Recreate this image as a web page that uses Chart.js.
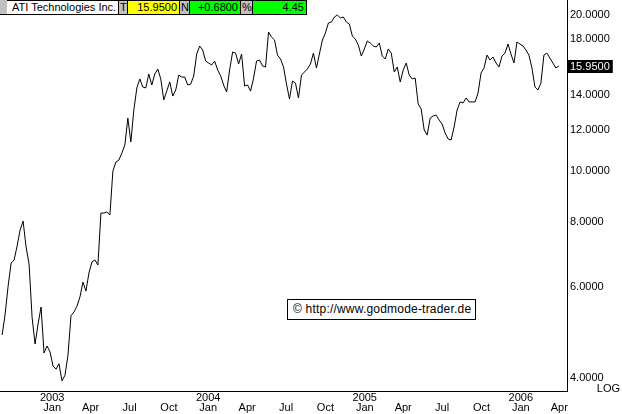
<!DOCTYPE html>
<html><head><meta charset="utf-8">
<script src="https://cdn.jsdelivr.net/npm/chart.js@4.4.1/dist/chart.umd.min.js"></script>
<style>
html,body{margin:0;padding:0;background:#fff;}
#wrap{position:relative;width:622px;height:414px;overflow:hidden;font-family:"Liberation Sans",Arial,sans-serif;color:#000;}
#c{position:absolute;left:0;top:0;}
#hdr{position:absolute;left:0;top:0;height:15px;display:flex;background:#c0c0c0;}
#hdr div{box-sizing:border-box;height:15px;border:1px solid #000;border-left:none;font-size:11px;line-height:13px;white-space:nowrap;overflow:hidden;}
#hdr .lab{background:#c0c0c0;padding-left:1px;}
#hdr .r{text-align:right;padding-right:2px;}
#wm{position:absolute;left:287px;top:299px;width:189px;height:21px;box-sizing:border-box;border:1px solid #000;background:#fff;font-size:12px;line-height:19px;padding-left:5px;white-space:nowrap;letter-spacing:0.2px;}
</style></head>
<body>
<div id="wrap">
<canvas id="c" width="622" height="414"></canvas>
<div id="hdr"></div>
<div id="wm"></div>
</div>
<script>
// ---- data ----
const companyName = 'ATI Technologies Inc.';
const lastQuote = '15.9500';
const netChange = '+0.6800';
const pctChange = '4.45';
const watermark = '\u00A9 http://www.godmode-trader.de';
const firstWeek = [2002, 8, 6]; // first weekly close: 6 Sep 2002
const weeklyClose = [
  4.84, 5.31, 6.01, 6.66, 6.75, 7.18, 7.71, 8.02, 7.15, 6.63,
  5.24, 4.65, 5.08, 5.48, 4.47, 4.61, 4.49, 4.22, 4.16, 4.26,
  3.95, 4.05, 4.43, 5.27, 5.36, 5.50, 5.73, 6.12, 5.88, 6.37,
  6.69, 6.75, 6.60, 8.31, 8.31, 8.35, 8.24, 10.01, 10.42, 10.51,
  10.84, 11.24, 12.66, 11.39, 13.12, 14.47, 15.06, 14.53, 14.47, 15.39,
  14.66, 15.39, 15.74, 15.06, 13.72, 14.27, 14.86, 13.96, 14.34, 15.32,
  15.19, 15.19, 14.66, 14.72, 15.26, 16.82, 17.43, 17.12, 16.30, 16.16,
  16.02, 16.30, 15.67, 15.26, 14.66, 14.21, 15.67, 16.97, 16.89, 16.09,
  16.82, 14.60, 14.66, 14.27, 15.12, 16.30, 16.38, 15.95, 15.88, 18.54,
  18.13, 17.90, 16.74, 16.45, 15.88, 14.72, 13.78, 14.92, 14.79, 13.84,
  15.32, 15.53, 15.74, 16.09, 16.89, 15.81, 16.82, 17.90, 18.46, 19.30,
  19.38, 19.82, 19.99, 19.73, 19.82, 19.38, 19.21, 18.21, 17.97, 17.50,
  16.67, 17.20, 17.82, 17.66, 17.43, 17.35, 17.66, 16.67, 16.45, 17.20,
  16.89, 15.53, 15.88, 14.86, 15.67, 16.16, 15.32, 15.06, 15.12, 13.48,
  13.18, 12.01, 11.74, 12.66, 12.78, 12.83, 12.55, 12.33, 11.85, 11.54,
  11.49, 12.17, 13.12, 13.60, 13.54, 13.84, 13.60, 13.60, 13.60, 14.15,
  15.46, 15.81, 16.74, 16.38, 16.60, 16.16, 15.88, 16.67, 16.89, 17.58,
  16.82, 16.16, 17.74, 17.58, 17.43, 17.12, 16.74, 15.81, 14.53, 14.34,
  14.79, 16.74, 16.89, 16.52, 16.16, 15.81, 15.95
];
const priceTicks = [4, 6, 8, 10, 12, 14, 18, 20];
const tickYears = [2003, 2004, 2005, 2006];
const tickMonths = [0, 3, 6, 9];
const monthNames = ['Jan','Feb','Mar','Apr','May','Jun','Jul','Aug','Sep','Oct','Nov','Dec'];

// ---- build ----
const DAY = 86400000;
const t0 = Date.UTC(firstWeek[0], firstWeek[1], firstWeek[2]);
const points = weeklyClose.map((v, i) => ({x: i * 7, y: v}));
const monthTickDays = [];
tickYears.forEach(y => tickMonths.forEach(m => {
  const d = (Date.UTC(y, m, 1) - t0) / DAY;
  if (d <= 1310) monthTickDays.push(d);
}));

// header
const hdr = document.getElementById('hdr');
[
  ['lab', '', 7], ['', companyName, 112, '#fff', 'padding-left:5px'],
  ['lab', 'T', 9], ['r', lastQuote, 52, '#ffff00'],
  ['lab', 'N', 10], ['r', netChange, 51, '#00ff00'],
  ['lab', '%', 12], ['r', pctChange, 54, '#00ff00']
].forEach(([cls, txt, w, bg, extra]) => {
  const d = document.createElement('div');
  d.className = cls; d.textContent = txt;
  d.style.width = w + 'px';
  if (bg) d.style.background = bg;
  if (extra) d.style.cssText += extra;
  hdr.appendChild(d);
});
hdr.firstChild.style.border = 'none';
hdr.firstChild.style.borderBottom = '1px solid #000';
document.getElementById('wm').textContent = watermark;

Chart.defaults.font.family = '"Liberation Sans", Arial, sans-serif';
Chart.defaults.font.size = 11;
Chart.defaults.color = '#000';

const lastPricePlugin = {
  id: 'lastPrice',
  afterDraw(chart) {
    const {ctx, chartArea} = chart;
    const y = chart.scales.y;
    const v = weeklyClose[weeklyClose.length - 1];
    const py = Math.round(y.getPixelForValue(v));
    ctx.save();
    ctx.font = '11px "Liberation Sans", Arial, sans-serif';
    const label = v.toFixed(4);
    const w = ctx.measureText(label).width;
    ctx.fillStyle = '#000';
    ctx.fillRect(chartArea.right + 1, py - 6, w + 5, 13);
    ctx.fillStyle = '#fff';
    ctx.textBaseline = 'middle';
    ctx.textAlign = 'left';
    ctx.fillText(label, chartArea.right + 3, py + 1);
    ctx.fillStyle = '#000';
    ctx.textAlign = 'right';
    ctx.textBaseline = 'alphabetic';
    ctx.fillText('LOG', chart.width - 2, chartArea.bottom + 1);
    ctx.restore();
  }
};

new Chart(document.getElementById('c'), {
  type: 'line',
  data: { datasets: [{
    data: points, borderColor: '#000', borderWidth: 1, pointRadius: 0,
    tension: 0, fill: false
  }]},
  options: {
    responsive: false, animation: false, devicePixelRatio: 1,
    layout: { padding: 0 },
    plugins: { legend: {display: false}, tooltip: {enabled: false} },
    scales: {
      x: {
        type: 'linear', position: 'bottom', min: -5, max: 1321,
        grid: { display: false, drawTicks: false },
        border: { display: true, color: '#000', width: 1 },
        ticks: {
          autoSkip: false, maxRotation: 0, minRotation: 0, padding: 2,
          font: { size: 11, lineHeight: '10px' },
          callback: (v) => {
            const d = new Date(t0 + v * DAY + DAY);
            const m = d.getUTCMonth();
            return m === 0 ? [String(d.getUTCFullYear()), 'Jan'] : ['', monthNames[m]];
          }
        },
        afterBuildTicks: s => { s.ticks = monthTickDays.map(v => ({value: v})); },
        afterFit: s => { s.height = 23; s.paddingLeft = 0; s.paddingRight = 0; s.paddingTop = 0; s.paddingBottom = 0; }
      },
      y: {
        type: 'logarithmic', position: 'right', min: 3.776, max: 21.37,
        grid: { display: false, drawTicks: false },
        border: { display: true, color: '#000', width: 1 },
        ticks: { padding: 3, callback: v => Number(v).toFixed(4) },
        afterBuildTicks: s => { s.ticks = priceTicks.map(v => ({value: v})); },
        afterFit: s => { s.width = 55; s.paddingLeft = 0; s.paddingRight = 0; s.paddingTop = 0; s.paddingBottom = 0; }
      }
    }
  },
  plugins: [lastPricePlugin]
});
</script>
</body></html>
